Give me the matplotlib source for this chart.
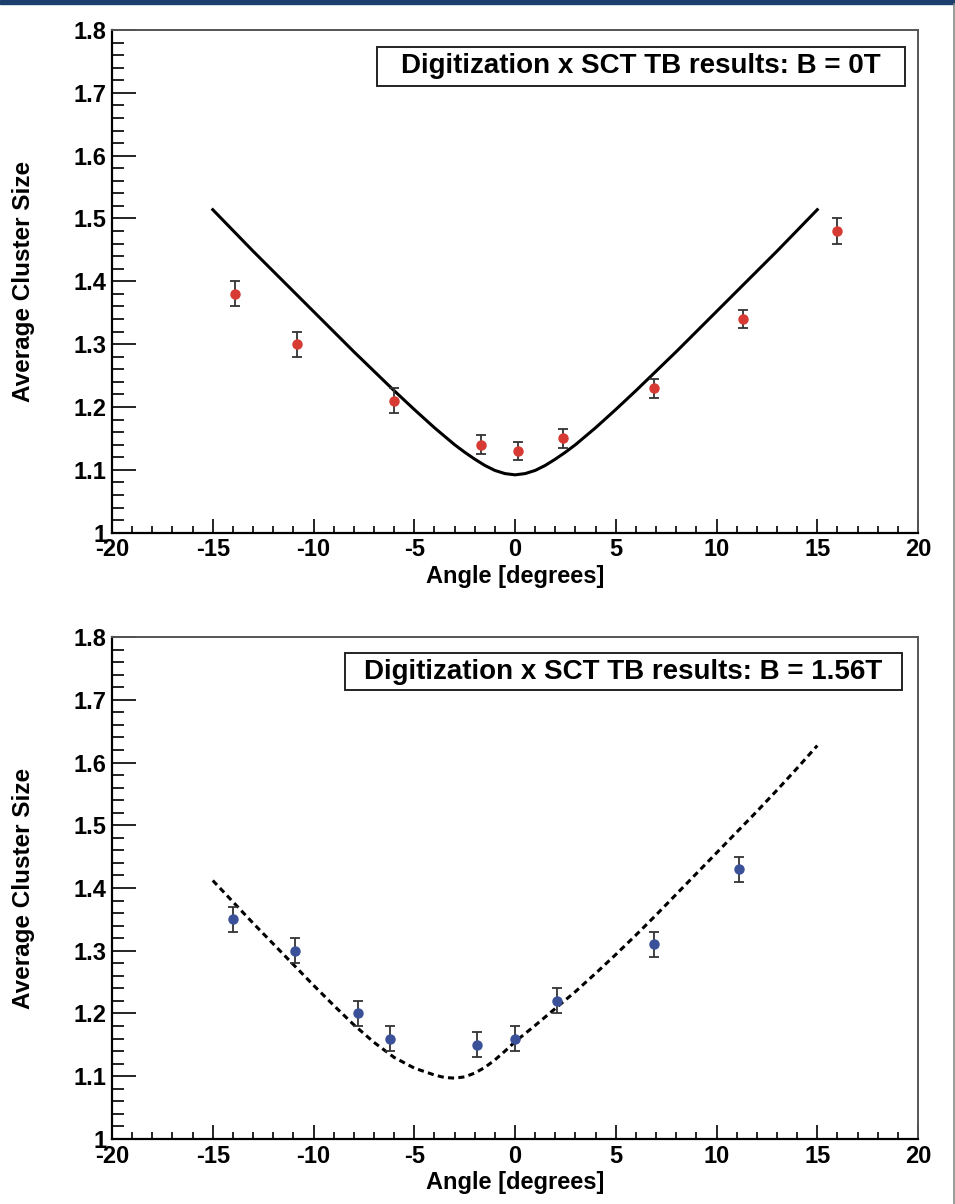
import numpy as np
import matplotlib.pyplot as plt
from matplotlib.patches import Rectangle
from matplotlib.ticker import MultipleLocator, FuncFormatter

plt.rcParams['font.family'] = ['Liberation Sans', 'DejaVu Sans']
plt.rcParams['font.weight'] = 'bold'
plt.rcParams['axes.unicode_minus'] = False

# --- B = 0T : test beam points + digitization curve ---
tb0_angle = [-13.9, -10.8, -6.0, -1.7, 0.15, 2.4, 6.9, 11.3, 16.0]
tb0_size = [1.38, 1.30, 1.21, 1.14, 1.13, 1.15, 1.23, 1.34, 1.48]
tb0_err = [0.02, 0.02, 0.02, 0.015, 0.015, 0.015, 0.015, 0.015, 0.02]

dig0_angle = [-15, -14, -13, -12, -11, -10, -9, -8, -7, -6, -5, -4, -3, -2.5, -2, -1.5, -1, -0.5,
              0, 0.5, 1, 1.5, 2, 2.5, 3, 4, 5, 6, 7, 8, 9, 10, 11, 12, 13, 14, 15]
dig0_size = [1.514, 1.481, 1.448, 1.416, 1.384, 1.352, 1.320, 1.288, 1.257, 1.226, 1.196, 1.167,
             1.140, 1.128, 1.117, 1.107, 1.099, 1.094, 1.092, 1.094, 1.099, 1.107, 1.117, 1.128,
             1.140, 1.167, 1.196, 1.226, 1.257, 1.288, 1.320, 1.352, 1.384, 1.416, 1.448, 1.481, 1.514]

# --- B = 1.56T ---
tb156_angle = [-14.0, -10.9, -7.8, -6.2, -1.9, 0.0, 2.1, 6.9, 11.1]
tb156_size = [1.35, 1.30, 1.20, 1.16, 1.15, 1.16, 1.22, 1.31, 1.43]
tb156_err = [0.02, 0.02, 0.02, 0.02, 0.02, 0.02, 0.02, 0.02, 0.02]

dig156_angle = [-15, -14, -13, -12, -11, -10, -9, -8, -7, -6, -5, -4, -3.5, -3, -2.5, -2, -1.5,
                -1, -0.5, 0, 1, 2, 3, 4, 5, 6, 7, 8, 9, 10, 11, 12, 13, 14, 15]
dig156_size = [1.412, 1.378, 1.344, 1.311, 1.278, 1.245, 1.213, 1.182, 1.154, 1.130, 1.113, 1.102,
               1.098, 1.097, 1.099, 1.105, 1.114, 1.126, 1.140, 1.155, 1.181, 1.208, 1.235, 1.264,
               1.294, 1.325, 1.357, 1.390, 1.423, 1.456, 1.489, 1.522, 1.556, 1.591, 1.627]

panels = [
    dict(pts=(tb0_angle, tb0_size, tb0_err), curve=(dig0_angle, dig0_size), color='#d63a32',
         ls='-', label='Digitization x SCT TB results: B = 0T',
         pos=[0.1173, 0.5576, 0.8440, 0.4175], box=(0.329, 0.889, 0.655, 0.077)),
    dict(pts=(tb156_angle, tb156_size, tb156_err), curve=(dig156_angle, dig156_size), color='#3a5199',
         ls=(0, (2.0, 1.4)), label='Digitization x SCT TB results: B = 1.56T',
         pos=[0.1173, 0.0540, 0.8440, 0.4169], box=(0.289, 0.894, 0.691, 0.074)),
]

fig = plt.figure(figsize=(9.55, 12.04), dpi=100)

# slide decoration: dark bar on top and thin border on the right
fig.patches.append(Rectangle((0, 0.9967), 1, 0.0033, transform=fig.transFigure,
                             color='#1d3f6e', zorder=0))
fig.lines.append(plt.Line2D([0.9985, 0.9985], [0, 0.9967], transform=fig.transFigure,
                            color='#888888', lw=1.2))

for p in panels:
    ax = fig.add_axes(p['pos'])
    cx, cy = p['curve']
    ax.plot(cx, cy, color='black', lw=2.2, linestyle=p['ls'], zorder=2)
    x, y, e = p['pts']
    ax.errorbar(x, y, yerr=e, fmt='o', color=p['color'], ms=6.5, mec=p['color'],
                ecolor='#333333', elinewidth=1.3, capsize=3.5, capthick=1.3, zorder=3)

    ax.set_xlim(-20, 20)
    ax.set_ylim(1.0, 1.8)
    ax.xaxis.set_major_locator(MultipleLocator(5))
    ax.xaxis.set_minor_locator(MultipleLocator(1))
    ax.yaxis.set_major_locator(MultipleLocator(0.1))
    ax.yaxis.set_minor_locator(MultipleLocator(0.02))
    ax.xaxis.set_major_formatter(FuncFormatter(lambda v, _: '%d' % round(v)))
    ax.yaxis.set_major_formatter(FuncFormatter(lambda v, _: '%g' % round(v, 2)))
    ax.tick_params(axis='both', which='both', direction='in', labelsize=17, width=1.2,
                   top=False, right=False)
    ax.tick_params(axis='x', which='major', length=10, pad=4)
    ax.tick_params(axis='x', which='minor', length=5)
    ax.tick_params(axis='y', which='major', length=17, pad=4)
    ax.tick_params(axis='y', which='minor', length=8.5)
    for s in ['left', 'bottom']:
        ax.spines[s].set_linewidth(1.6)
        ax.spines[s].set_color('black')
    for s in ['top', 'right']:
        ax.spines[s].set_linewidth(1.4)
        ax.spines[s].set_color('#555555')

    ax.set_xlabel('Angle [degrees]', fontsize=17, fontweight='bold')
    ax.xaxis.set_label_coords(0.5, -0.064)
    ax.set_ylabel('Average Cluster Size', fontsize=17.5, fontweight='bold')
    ax.yaxis.set_label_coords(-0.096, 0.5)

    bx, by, bw, bh = p['box']
    ax.add_patch(Rectangle((bx, by), bw, bh, transform=ax.transAxes, fill=False,
                           edgecolor='#222222', lw=1.4, zorder=4))
    ax.text(bx + bw / 2, by + bh / 2, p['label'], transform=ax.transAxes, ha='center',
            va='center', fontsize=20, fontweight='bold', zorder=5)

fig.savefig('out.png', dpi=100)
